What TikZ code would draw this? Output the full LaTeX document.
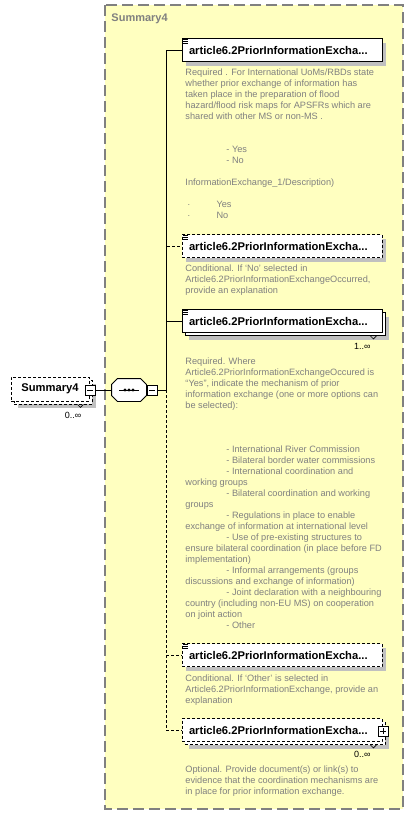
\documentclass[tikz,border=0pt]{standalone}
\usepackage{fontspec}
\setmainfont{Liberation Sans}
\usepackage{tikz}
\usetikzlibrary{shadows,positioning}
\definecolor{groupyellow}{RGB}{255,255,192}
\definecolor{groupgray}{RGB}{128,128,128}
\definecolor{descgray}{RGB}{128,128,128}
\definecolor{shadowgray}{RGB}{192,192,192}

\begin{document}
\begin{tikzpicture}[x=1pt, y=-1pt, line width=0.9pt,
  group/.style={draw=groupgray, line width=1.2pt, dash pattern=on 11pt off 5pt, fill=groupyellow},
  grouptitle/.style={anchor=west, inner sep=0pt, text=groupgray, font=\fontsize{11}{13}\selectfont\bfseries},
  elem/.style={rectangle, draw=black, fill=white, minimum width=200pt, minimum height=23pt, text width=186pt, inner xsep=7pt, inner ysep=0pt, align=left, font=\fontsize{11.2}{13}\selectfont\bfseries},
  rootelem/.style={rectangle, draw=black, fill=white, minimum width=78pt, minimum height=24pt, inner sep=0pt, font=\fontsize{11.2}{13}\selectfont\bfseries},
  opt/.style={dash pattern=on 3pt off 2pt},
  shadowed/.style={drop shadow={shadow xshift=4pt, shadow yshift=-4pt, fill=shadowgray, opacity=1}},
  stacked/.style={drop shadow={shadow xshift=7pt, shadow yshift=-7pt, fill=shadowgray, opacity=1}, copy shadow={shadow xshift=3pt, shadow yshift=-3pt, fill=white, draw=black, #1}},
  stacked/.default={},
  desc/.style={anchor=north west, inner sep=0pt, align=left, text=descgray, font=\fontsize{9.2}{11}\selectfont},
  card/.style={inner sep=0pt, font=\fontsize{9}{10}\selectfont},
  minusbox/.style={rectangle, draw=black, fill=white, minimum size=10pt, inner sep=0pt, line width=0.8pt,
    path picture={\draw ([xshift=2pt]path picture bounding box.west) -- ([xshift=-2pt]path picture bounding box.east);}},
  plusbox/.style={minusbox,
    path picture={\draw ([xshift=2pt]path picture bounding box.west) -- ([xshift=-2pt]path picture bounding box.east);
                  \draw ([yshift=-2pt]path picture bounding box.north) -- ([yshift=2pt]path picture bounding box.south);}},
  seqbox/.style={rectangle, minimum width=34pt, minimum height=22pt, inner sep=0pt}]

\useasboundingbox (0,0) rectangle (414,815);
\fill[white] (0,0) rectangle (414,815);

% Group
\draw[group] (105,5) rectangle (403,809);
\node[grouptitle] (title) at (111,19) {Summary4};

% Root and sequence
\node[rootelem, opt, stacked={opt}] (root) at (50,389) {Summary4};
\node[minusbox] (rootminus) at (90,390) {};
\node[card] (rootcard) at (73,415) {0..∞};
\node[seqbox] (seq) at (129,390) {};
\fill[shadowgray, shift={(4,4)}] ([xshift=6pt]seq.north west) -- ([xshift=-6pt]seq.north east) -- ([yshift=-6pt]seq.north east)
  -- ([yshift=6pt]seq.south east) -- ([xshift=-6pt]seq.south east) -- ([xshift=6pt]seq.south west)
  -- ([yshift=6pt]seq.south west) -- ([yshift=-6pt]seq.north west) -- cycle;
\draw[fill=white] ([xshift=6pt]seq.north west) -- ([xshift=-6pt]seq.north east) -- ([yshift=-6pt]seq.north east)
  -- ([yshift=6pt]seq.south east) -- ([xshift=-6pt]seq.south east) -- ([xshift=6pt]seq.south west)
  -- ([yshift=6pt]seq.south west) -- ([yshift=-6pt]seq.north west) -- cycle;
\node[minusbox] (seqminus) at (152,390) {};
\draw ([xshift=-10pt]seq.center) -- ([xshift=10pt]seq.center);
\foreach \dx in {-4,0,4}
  \fill ([xshift=\dx pt]seq.center) circle (1.6pt);

% Children
\node[elem, shadowed] (e1) at (282,50) {article6.2PriorInformationExcha...};
\node[elem, opt, shadowed] (e2) at (282,246) {article6.2PriorInformationExcha...};
\node[elem, stacked] (e3) at (282,321) {article6.2PriorInformationExcha...};
\node[elem, opt, shadowed] (e4) at (282,655) {article6.2PriorInformationExcha...};
\node[elem, opt, stacked={opt}] (e5) at (282,730) {article6.2PriorInformationExcha...};
\node[plusbox] (e5plus) at (383,731) {};
\node[card, anchor=east] (c3) at (371,346) {1..∞};
\node[card, anchor=east] (c5) at (371,754) {0..∞};

% Annotation icons and occurrence marks
\foreach \n in {e1,e2,e3,e4}
  \foreach \k in {1.5,3.5,5.5}
    \draw[line width=0.7pt] ([shift={(1.5,\k)}]\n.north west) -- ++(5,0);
\foreach \n in {e3,e5}
  \draw[line width=0.6pt] ([shift={(-12,3)}]\n.south east) -- ++(3,3) -- ++(3,-3);
\draw[line width=0.6pt] ([shift={(-12,3)}]root.south east) -- ++(3,3) -- ++(3,-3);

% Connectors
\coordinate (trunk) at (166,390);
\draw (rootminus) -- (seq);
\draw (seqminus) -- (trunk);
\draw[opt] (trunk) |- (e2);
\draw[opt] (trunk) |- (e4);
\draw[opt] (trunk) |- (e5);
\draw (trunk) |- (e1);
\draw (trunk) |- (e3);

% Descriptions
\node[desc] (d1) at (185,68.5) {Required . For International UoMs/RBDs state\\
whether prior exchange of information has\\
taken place in the preparation of flood\\
hazard/flood risk maps for APSFRs which are\\
shared with other MS or non-MS .\\[22pt]
\hspace*{41pt}- Yes\\
\hspace*{41pt}- No\\[11pt]
InformationExchange\_1/Description)\\[11pt]
\hspace*{2pt}·\hspace*{26pt}Yes\\
\hspace*{2pt}·\hspace*{26pt}No};

\node[desc] (d2) at (185,264.5) {Conditional. If ‘No’ selected in\\
Article6.2PriorInformationExchangeOccurred,\\
provide an explanation};

\node[desc] (d3) at (185,357.5) {Required. Where\\
Article6.2PriorInformationExchangeOccured is\\
“Yes”, indicate the mechanism of prior\\
information exchange (one or more options can\\
be selected):\\[33pt]
\hspace*{41pt}- International River Commission\\
\hspace*{41pt}- Bilateral border water commissions\\
\hspace*{41pt}- International coordination and\\
working groups\\
\hspace*{41pt}- Bilateral coordination and working\\
groups\\
\hspace*{41pt}- Regulations in place to enable\\
exchange of information at international level\\
\hspace*{41pt}- Use of pre-existing structures to\\
ensure bilateral coordination (in place before FD\\
implementation)\\
\hspace*{41pt}- Informal arrangements (groups\\
discussions and exchange of information)\\
\hspace*{41pt}- Joint declaration with a neighbouring\\
country (including non-EU MS) on cooperation\\
on joint action\\
\hspace*{41pt}- Other};

\node[desc] (d4) at (185,674.5) {Conditional. If ‘Other’ is selected in\\
Article6.2PriorInformationExchange, provide an\\
explanation};

\node[desc] (d5) at (185,765.5) {Optional. Provide document(s) or link(s) to\\
evidence that the coordination mechanisms are\\
in place for prior information exchange.};

\end{tikzpicture}
\end{document}
